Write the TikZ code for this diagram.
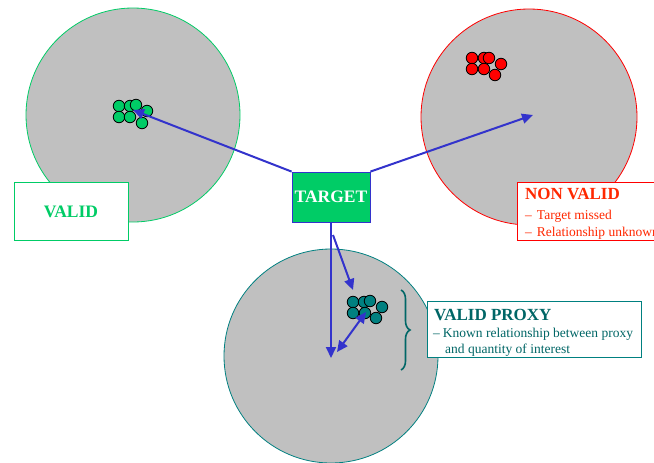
\documentclass[tikz,border=0pt]{standalone}
\usepackage{fontspec}
\setmainfont{Liberation Serif}
\usetikzlibrary{arrows.meta,decorations.pathreplacing}
\definecolor{cgray}{RGB}{192,192,192}
\definecolor{cgreen}{RGB}{0,204,102}
\definecolor{cred}{RGB}{255,0,0}
\definecolor{tred}{RGB}{255,40,0}
\definecolor{cteal}{RGB}{0,128,128}
\definecolor{tteal}{RGB}{0,102,102}
\definecolor{ablue}{RGB}{51,51,204}
\tikzset{
  bigcirc/.style={circle,fill=cgray,inner sep=0pt,minimum size=214pt,line width=0.8pt},
  dot/.style={circle,draw=black,line width=0.8pt,inner sep=0pt,minimum size=11.5pt},
  arr/.style={draw=ablue,line width=2pt,-{Triangle[length=11pt,width=10pt]}},
  darr/.style={draw=ablue,line width=2pt,{Triangle[length=11pt,width=10pt]}-{Triangle[length=11pt,width=10pt]}},
  labbox/.style={draw,fill=white,line width=0.8pt,inner sep=0pt,anchor=north west},
  headf/.style={font=\fontsize{17}{19}\selectfont\bfseries},
  bulf/.style={font=\fontsize{13.5}{15}\selectfont},
}
\begin{document}
\begin{tikzpicture}[x=1pt,y=-1pt]
\path[use as bounding box] (0,0) rectangle (654,463);
\clip (0,0) rectangle (654,463);
% circles
\node[bigcirc,draw=cgreen] (cV) at (133,115) {};
\node[bigcirc,draw=cred,minimum size=216pt] (cN) at (529,117) {};
\node[bigcirc,draw=cteal] (cP) at (331,356) {};
% green dots
\foreach \n/\x/\y in {g1/119/106,g2/130/106,g3/136/105,g4/147/111,g5/119/117,g6/130/117,g7/142/123}
  \node[dot,fill=cgreen] (\n) at (\x,\y) {};
% red dots
\foreach \n/\x/\y in {r1/472/58,r2/484/58,r3/489/58,r4/501/64,r5/472/69,r6/484/69,r7/495/75}
  \node[dot,fill=cred] (\n) at (\x,\y) {};
% teal dots
\foreach \n/\x/\y in {t1/353/302,t2/364/302,t3/370/301,t4/382/307,t5/353/313,t6/365/313,t7/376/318}
  \node[dot,fill=cteal] (\n) at (\x,\y) {};
% target
\node[draw=ablue,fill=cgreen,line width=0.8pt,minimum width=78pt,minimum height=50pt,inner sep=0pt,
  text=white,font=\fontsize{17.5}{19}\selectfont\bfseries] (tgt) at (331,197) {TARGET};
% coordinates
\coordinate (pV) at (133,110);
\coordinate (pN) at (533,115);
\coordinate (pP) at (331,358);
\coordinate (sB) at (333,235);
\coordinate (pB) at (353,290);
\coordinate (dA) at (337,352);
\coordinate (dB) at (366,312);
\draw[arr] (tgt.north west) -- (pV);
\draw[arr] (tgt.north east) -- (pN);
\draw[arr] (tgt.south) -- (pP);
\draw[arr] (sB) -- (pB);
\draw[darr] (dA) -- (dB);
% brace
\coordinate (b1) at (401,290);
\coordinate (b2) at (401,370);
\draw[cteal!80!black,line width=1.6pt,decorate,decoration={brace,amplitude=9pt}] (b1) -- (b2);
% label boxes
\node[labbox,draw=cgreen,minimum width=114pt,minimum height=58pt] (bV) at (14,182) {};
\node[text=cgreen,font=\fontsize{17.5}{19}\selectfont\bfseries] (tV) at (71,211.5) {VALID};
\node[labbox,draw=cred,minimum width=150pt,minimum height=58pt] (bN) at (517,182) {};
\node[anchor=base west,text=tred,headf,inner sep=0pt] (tN) at (525,199) {NON VALID};
\node[anchor=base west,text=tred,bulf,inner sep=0pt] (tN1) at (525,219) {–\hspace{5pt}Target missed};
\node[anchor=base west,text=tred,bulf,inner sep=0pt] (tN2) at (525,236) {–\hspace{5pt}Relationship unknown};
\node[labbox,draw=cteal,minimum width=214pt,minimum height=56pt] (bP) at (427,301) {};
\node[anchor=base west,text=tteal,headf,inner sep=0pt] (tP) at (434,320) {VALID PROXY};
\node[anchor=base west,text=tteal,bulf,inner sep=0pt] (tP1) at (433,337) {–\hspace{3pt}Known relationship between proxy};
\node[anchor=base west,text=tteal,bulf,inner sep=0pt] (tP2) at (445,353.5) {and quantity of interest};
\end{tikzpicture}
\end{document}
